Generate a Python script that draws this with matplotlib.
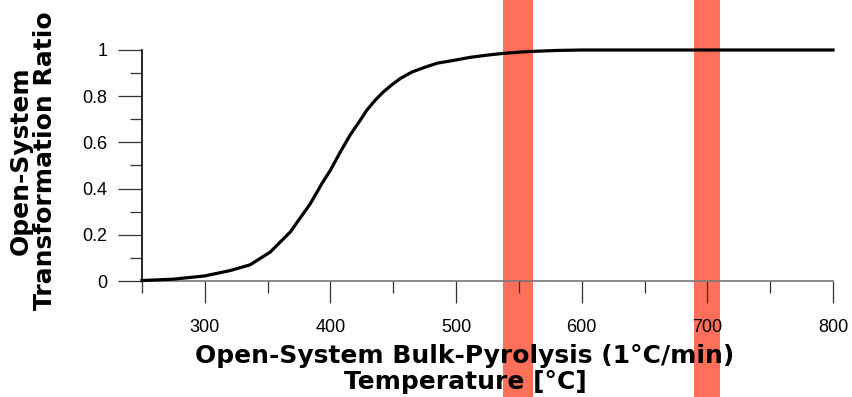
import matplotlib
matplotlib.use("Agg")
import matplotlib.pyplot as plt
from matplotlib.ticker import MultipleLocator, FixedLocator

# Transformation ratio vs. temperature (open-system bulk pyrolysis, 1 C/min)
temperature = [250, 275, 300, 320, 336, 352, 368, 384, 393, 400, 408, 416, 423,
               429, 436, 442, 449, 456, 465, 475, 485, 498, 511, 525, 537, 551,
               565, 580, 600, 700, 800]
transformation_ratio = [0.002, 0.008, 0.022, 0.045, 0.07, 0.125, 0.212, 0.335,
                        0.42, 0.48, 0.56, 0.635, 0.69, 0.74, 0.785, 0.818, 0.85,
                        0.878, 0.905, 0.925, 0.943, 0.955, 0.968, 0.978, 0.985,
                        0.991, 0.995, 0.998, 1.0, 1.0, 1.0]

# highlighted temperature windows
bands = [(537, 561), (689, 710)]

x_major = [300, 400, 500, 600, 700, 800]
x_minor = [250, 350, 450, 550, 650, 750]
y_labels = ["0", "0.2", "0.4", "0.6", "0.8", "1"]

fig = plt.figure(figsize=(8.52, 3.97), dpi=100)
ax = fig.add_axes([142 / 852, 1 - 281 / 397, (833 - 142) / 852, (281 - 50) / 397])

band_color = "#ff6f5a"
for lo, hi in bands:
    ax.axvspan(lo, hi, ymin=-0.6, ymax=1.3, color=band_color, lw=0,
               clip_on=False, zorder=0.5)

ax.plot(temperature, transformation_ratio, color="black", lw=2.3,
        clip_on=False, zorder=3, solid_joinstyle="round")

ax.set_xlim(250, 800)
ax.set_ylim(0, 1)

ax.spines["top"].set_visible(False)
ax.spines["right"].set_visible(False)
ax.spines["left"].set_color("black")
ax.spines["left"].set_linewidth(1.2)
ax.spines["bottom"].set_color("#777777")
ax.spines["bottom"].set_linewidth(1.2)

ax.xaxis.set_major_locator(FixedLocator(x_major))
ax.xaxis.set_minor_locator(FixedLocator(x_minor))
ax.set_xticklabels([str(v) for v in x_major])
ax.yaxis.set_major_locator(FixedLocator([0, 0.2, 0.4, 0.6, 0.8, 1.0]))
ax.yaxis.set_minor_locator(MultipleLocator(0.1))
ax.set_yticklabels(y_labels)

ax.tick_params(axis="x", which="major", direction="out", length=16, width=0.9,
               color="#333333", pad=11)
ax.tick_params(axis="x", which="minor", direction="out", length=8.5, width=0.9,
               color="#333333")
ax.tick_params(axis="y", which="major", direction="out", length=17, width=0.9,
               color="#333333", pad=8)
ax.tick_params(axis="y", which="minor", direction="out", length=8.5, width=0.9,
               color="#333333")
for lbl in ax.get_xticklabels() + ax.get_yticklabels():
    lbl.set_fontfamily("Liberation Sans")
    lbl.set_fontsize(13)

fig.text(465 / 852, 1 - 369 / 397,
         "Open-System Bulk-Pyrolysis (1°C/min)\nTemperature [°C]",
         ha="center", va="center", fontsize=18, fontweight="bold",
         family="DejaVu Sans", linespacing=1.1, zorder=5)
fig.text(33 / 852, 1 - 161 / 397,
         "Open-System\nTransformation Ratio",
         ha="center", va="center", rotation=90, fontsize=18, fontweight="bold",
         family="DejaVu Sans", linespacing=1.0, zorder=5)

fig.savefig("out.png", dpi=100, facecolor="white")
